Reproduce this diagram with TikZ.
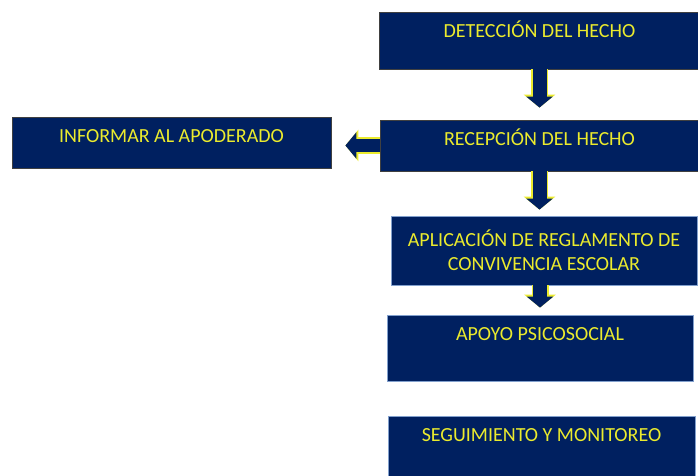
\documentclass[tikz,border=0pt]{standalone}
\usepackage{fontspec}
\setmainfont{Carlito}
\usetikzlibrary{arrows.meta}
\definecolor{boxNavy}{RGB}{0, 32, 96}
\definecolor{textYellow}{RGB}{235, 235, 45}
\definecolor{edgeBlue}{RGB}{130, 160, 205}

\begin{document}
\begin{tikzpicture}[x=1pt, y=-1pt,
    stepbox/.style={rectangle, draw=black!75, line width=0.8pt, fill=boxNavy, text=textYellow,
        font=\fontsize{20}{24}\selectfont, inner sep=0pt, align=center},
    flowarrow/.style={draw=boxNavy, line width=14pt, -{Triangle[length=11pt, width=26pt]},
        preaction={draw=textYellow, line width=17pt, -{Triangle[length=13pt, width=31pt]}}}]
    \useasboundingbox (0,0) rectangle (698,476);

    % Protocol flow
    \node[stepbox, minimum width=321pt, minimum height=57pt, text height=13pt, text depth=19pt] (det) at (539.5,40.5) {DETECCIÓN DEL HECHO};
    \node[stepbox, minimum width=318pt, minimum height=51pt, text height=13pt, text depth=13pt] (rec) at (539.5,145.5) {RECEPCIÓN DEL HECHO};
    \node[stepbox, minimum width=319pt, minimum height=51pt, text height=13pt, text depth=13pt] (inf) at (171.5,142.5) {INFORMAR AL APODERADO};
    \node[stepbox, draw=edgeBlue, minimum width=306pt, minimum height=69pt] (apl) at (544,250.5) {APLICACIÓN DE REGLAMENTO DE\\CONVIVENCIA ESCOLAR};
    \node[stepbox, draw=edgeBlue, minimum width=306pt, minimum height=66pt, text height=13pt, text depth=28pt] (apo) at (540,348) {APOYO PSICOSOCIAL};
    \node[stepbox, draw=edgeBlue, minimum width=307pt, minimum height=66pt, text height=13pt, text depth=28pt] (seg) at (541.5,449) {SEGUIMIENTO Y MONITOREO};

    \draw[flowarrow, shorten >=12pt] (det.south) -- (rec.north);
    \draw[flowarrow, shorten >=6pt] (rec.south) -- (rec.south |- apl.north);
    \draw[flowarrow, line width=13pt, shorten >=14pt] (rec.west) -- (rec.west -| inf.east);
    \draw[flowarrow, shorten >=7pt] (apl.south -| apo) -- (apo);
\end{tikzpicture}
\end{document}
